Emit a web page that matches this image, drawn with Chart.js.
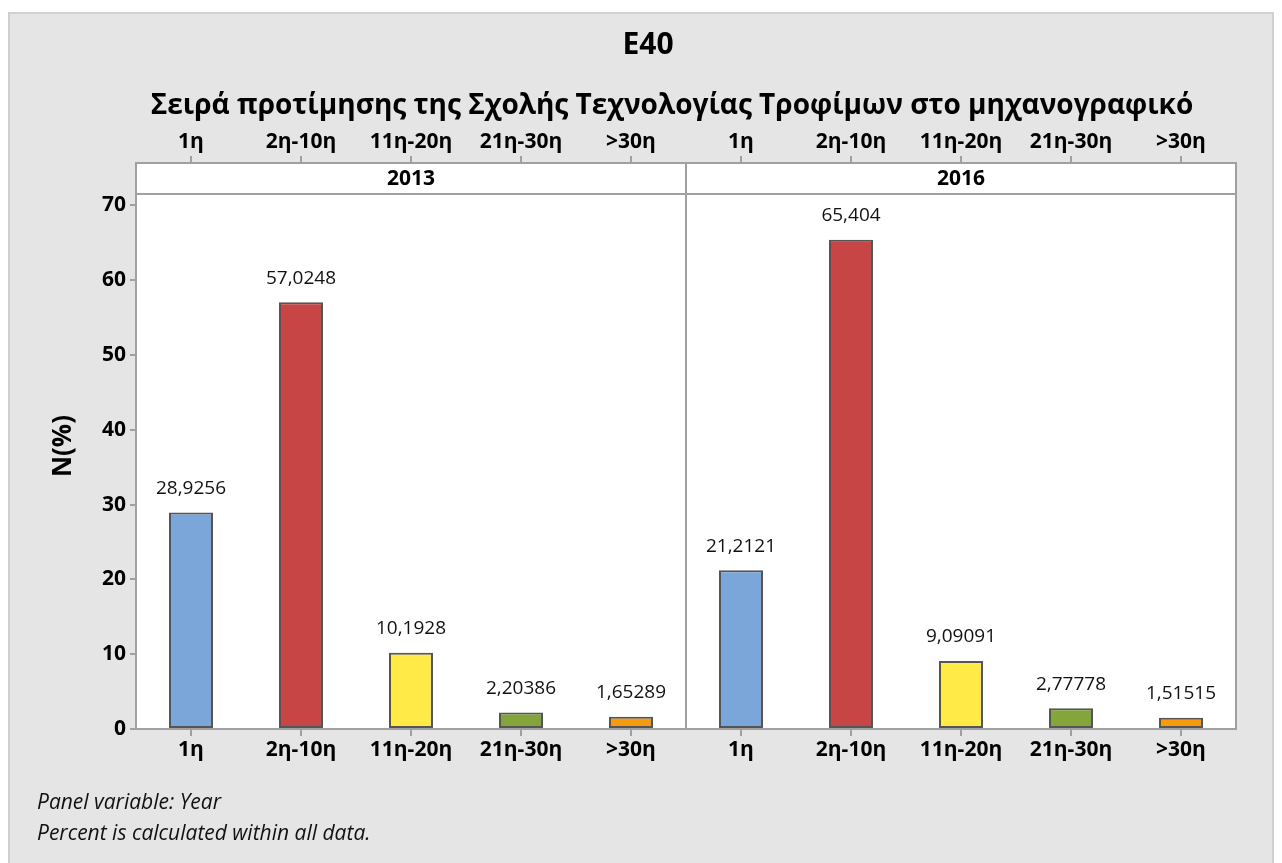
<!DOCTYPE html>
<html><head><meta charset="utf-8">
<script src="https://cdn.jsdelivr.net/npm/chart.js@4.4.0/dist/chart.umd.min.js"></script>
<style>html,body{margin:0;padding:0;background:#fff;} #wrap{position:relative;width:1282px;height:863px;}</style>
</head><body><div id="wrap"><canvas id="c" width="1282" height="863"></canvas></div>
<script>
const categories = ['1η', '2η-10η', '11η-20η', '21η-30η', '>30η'];
const years = ['2013', '2016'];
const values2013 = [28.9256, 57.0248, 10.1928, 2.20386, 1.65289];
const values2016 = [21.2121, 65.404, 9.09091, 2.77778, 1.51515];
const barColors = ['#7BA6DA', '#C84545', '#FFEA47', '#84A43C', '#F59B0D'];
const yTicks = [0, 10, 20, 30, 40, 50, 60, 70];
const chartTitle = 'E40';
const xTitle = 'Σειρά προτίμησης της Σχολής Τεχνολογίας Τροφίμων στο μηχανογραφικό';
const yTitle = 'N(%)';
const footnotes = ['Panel variable: Year', 'Percent is calculated within all data.'];

const FONT = '"Open Sans", "Noto Sans", sans-serif';
const labels = years.flatMap(() => categories);
const data = [...values2013, ...values2016];
const colors = years.flatMap(() => barColors);

function fmt(v) {
  let s = v.toPrecision(6);
  if (s.indexOf('.') >= 0) s = s.replace(/0+$/, '').replace(/\.$/, '');
  return s.replace('.', ',');
}

const AXIS = '#a0a0a0';

const bgPlugin = {
  id: 'bg',
  beforeDraw(chart) {
    const c = chart.ctx, ca = chart.chartArea;
    c.save();
    c.fillStyle = '#ffffff';
    c.fillRect(0, 0, chart.width, chart.height);
    c.fillStyle = '#e5e5e5';
    c.fillRect(9, 13, 1264, 852);
    c.strokeStyle = '#d0d0d0';
    c.lineWidth = 2;
    c.strokeRect(9, 13, 1264, 852);
    c.fillStyle = '#ffffff';
    c.fillRect(ca.left, ca.top, ca.right - ca.left, ca.bottom - ca.top);
    c.restore();
  }
};

const decoPlugin = {
  id: 'deco',
  afterDraw(chart) {
    const c = chart.ctx, ca = chart.chartArea, xs = chart.scales.x;
    c.save();
    const stripH = 31;
    const divX = (xs.getPixelForValue(4) + xs.getPixelForValue(5)) / 2;
    c.strokeStyle = AXIS;
    c.lineWidth = 2;
    c.beginPath();
    c.moveTo(ca.left, ca.top); c.lineTo(ca.right, ca.top);
    c.moveTo(ca.right, ca.top); c.lineTo(ca.right, ca.bottom);
    c.moveTo(ca.left, ca.top + stripH); c.lineTo(ca.right, ca.top + stripH);
    c.moveTo(divX, ca.top); c.lineTo(divX, ca.bottom);
    c.stroke();
    c.fillStyle = '#000';
    c.font = 'bold 21px ' + FONT;
    c.textAlign = 'center';
    c.textBaseline = 'middle';
    c.fillText(years[0], (ca.left + divX) / 2, ca.top + stripH / 2 + 1);
    c.fillText(years[1], (divX + ca.right) / 2, ca.top + stripH / 2 + 1);
    c.font = 'bold 30px ' + FONT;
    c.fillText(chartTitle, 648, 45);
    c.font = 'bold 28px ' + FONT;
    c.fillText(xTitle, 672, 106);
    c.font = '19px ' + FONT;
    c.fillStyle = '#111';
    const meta = chart.getDatasetMeta(0);
    meta.data.forEach((bar, i) => {
      c.fillText(fmt(data[i]), bar.x, bar.y - 24);
    });
    c.font = 'italic 21px ' + FONT;
    c.textAlign = 'left';
    c.textBaseline = 'alphabetic';
    c.fillStyle = '#111';
    c.fillText(footnotes[0], 37, 809);
    c.fillText(footnotes[1], 37, 840);
    c.restore();
  }
};

const tickFont = { family: FONT, size: 21, weight: 'bold' };
const xGrid = { display: true, drawOnChartArea: false, offset: false, tickLength: 7, color: AXIS, lineWidth: 2 };

new Chart(document.getElementById('c'), {
  type: 'bar',
  data: {
    labels: labels,
    datasets: [{
      data: data,
      backgroundColor: colors,
      borderColor: '#555555',
      borderWidth: 2,
      borderSkipped: false,
      barPercentage: 0.4,
      categoryPercentage: 1
    }]
  },
  options: {
    responsive: false,
    animation: false,
    layout: { padding: { left: 0, right: 46, top: 0, bottom: 0 } },
    plugins: { legend: { display: false }, title: { display: false }, tooltip: { enabled: false } },
    scales: {
      x: {
        type: 'category', position: 'bottom', offset: true,
        grid: xGrid,
        border: { display: true, color: AXIS, width: 2 },
        ticks: { font: tickFont, color: '#000', padding: 1, maxRotation: 0, autoSkip: false },
        afterFit(s) { s.height = 134; }
      },
      xTop: {
        type: 'category', position: 'top', offset: true,
        grid: xGrid,
        border: { display: true, color: AXIS, width: 2 },
        ticks: { font: tickFont, color: '#000', padding: 1, maxRotation: 0, autoSkip: false },
        afterFit(s) { s.height = 163; }
      },
      y: {
        type: 'linear', min: 0, max: 75.65,
        afterBuildTicks(s) { s.ticks = yTicks.map(v => ({ value: v })); },
        grid: { drawOnChartArea: false, tickLength: 6, color: AXIS, lineWidth: 2 },
        border: { display: true, color: AXIS, width: 2 },
        ticks: { font: tickFont, color: '#000', padding: 4 },
        title: { display: true, text: yTitle, color: '#000', font: { family: FONT, size: 26, weight: 'bold' }, padding: { top: 48, bottom: 0 } },
        afterFit(s) { s.width = 136; }
      }
    }
  },
  plugins: [bgPlugin, decoPlugin]
});
</script>
</body></html>
